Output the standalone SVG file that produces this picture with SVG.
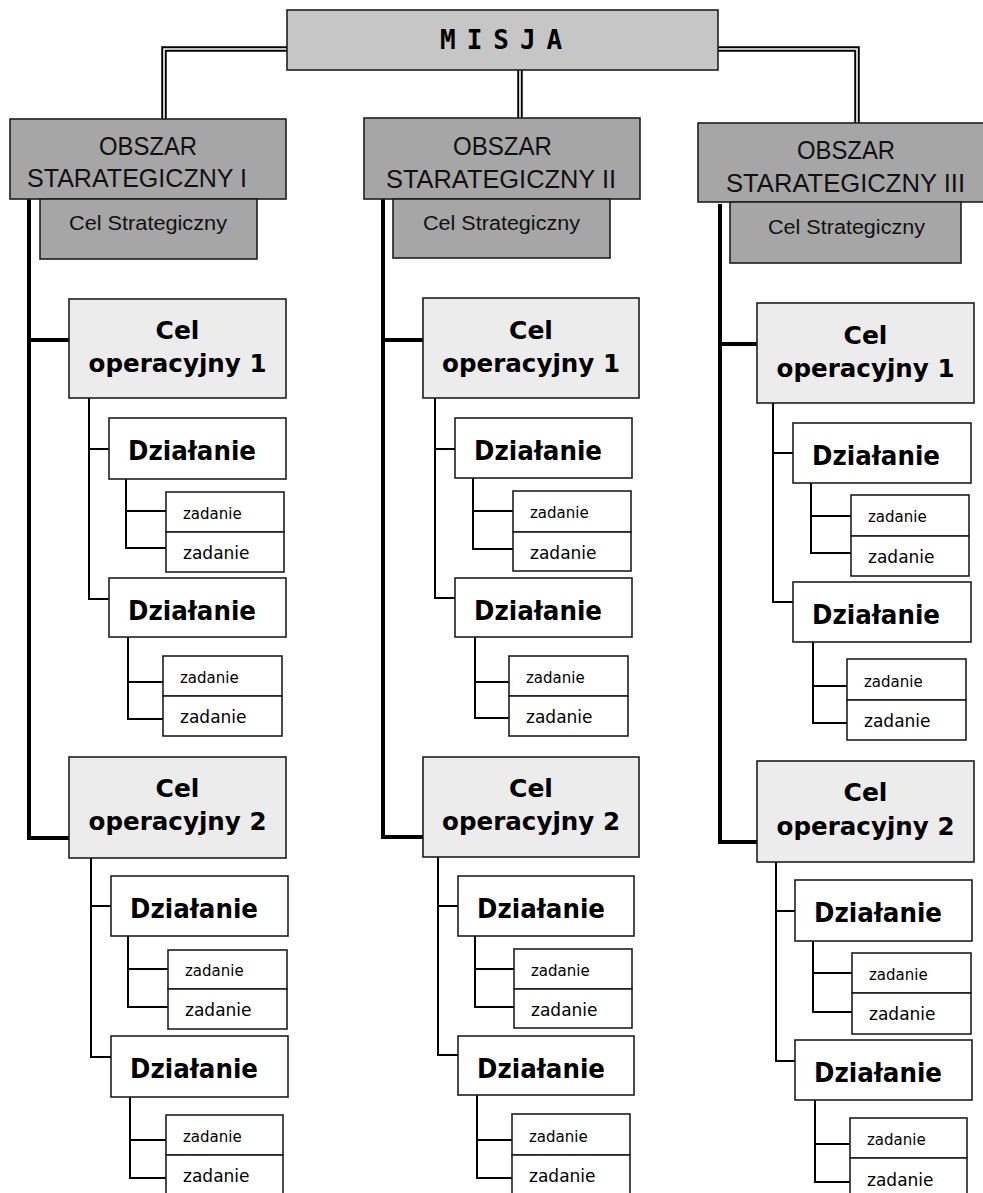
<svg xmlns="http://www.w3.org/2000/svg" width="983" height="1193" viewBox="0 0 983 1193">
<style>
.b{stroke:#1e1e1e;stroke-width:1.6}
.misja{fill:#c6c6c6}
.obs{fill:#a6a6a6}
.cop{fill:#ececec}
.w{fill:#fff}
.tm{font-family:"DejaVu Sans Mono",monospace;font-weight:bold;font-size:26px;letter-spacing:11px;fill:#000}
.to{font-family:"Liberation Sans",Arial,sans-serif;font-size:25.5px;fill:#111}
.ts{font-family:"Liberation Sans",Arial,sans-serif;font-size:20px;fill:#111}
.tc{font-family:"DejaVu Sans",Verdana,sans-serif;font-weight:bold;font-size:25px;fill:#000;text-anchor:middle}
.td{font-family:"DejaVu Sans",Verdana,sans-serif;font-weight:bold;font-size:26px;fill:#000}
.tz{font-family:"DejaVu Sans",Verdana,sans-serif;font-size:15px;fill:#000}
.tz2{font-family:"DejaVu Sans",Verdana,sans-serif;font-size:17px;fill:#000}
.dbo{fill:none;stroke:#000;stroke-width:5.5}
.dbi{fill:none;stroke:#fff;stroke-width:1.6}
.bus{fill:none;stroke:#000;stroke-width:4}
.thin{fill:none;stroke:#000;stroke-width:2}
</style>
<g id="connectors">
<path class="dbo" d="M287,49 H164 V119"/>
<path class="dbi" d="M287,49 H164 V119"/>
<path class="dbo" d="M520,70 V118"/>
<path class="dbi" d="M520,70 V118"/>
<path class="dbo" d="M718,49 H857 V123"/>
<path class="dbi" d="M718,49 H857 V123"/>
<path class="bus" d="M29,199 V838 H69 M29,340 H69"/>
<path class="bus" d="M383,198 V837 H423 M383,340 H423"/>
<path class="bus" d="M720,204 V842 H757 M720,344 H757"/>
<path class="thin" d="M89,398 V599 H109 M89,449 H109 M126,479 V548 H166 M126,511 H166 M128,637 V719 H163 M128,682 H163"/>
<path class="thin" d="M91,858 V1057 H111 M91,906 H111 M128,936 V1007 H168 M128,969 H168 M130,1097 V1178 H166 M130,1140 H166"/>
<path class="thin" d="M435,398 V598 H455 M435,449 H455 M473,478 V549 H513 M473,511 H513 M475,637 V718 H509 M475,682 H509"/>
<path class="thin" d="M438,857 V1055 H458 M438,906 H458 M475,936 V1007 H514 M475,969 H514 M477,1095 V1178 H512 M477,1140 H512"/>
<path class="thin" d="M773,403 V602 H793 M773,453 H793 M811,483 V553 H851 M811,516 H851 M813,642 V723 H847 M813,686 H847"/>
<path class="thin" d="M776,862 V1061 H795 M776,911 H795 M813,941 V1012 H852 M813,973 H852 M815,1100 V1182 H850 M815,1144 H850"/>
</g>
<g id="misja"><rect class="misja b" x="287" y="10" width="431" height="60"/><text class="tm" x="440" y="49">MISJA</text></g>

<g id="obszar1"><rect class="obs b" x="10" y="119" width="276" height="80"/><text class="to" x="99" y="155" textLength="98" lengthAdjust="spacingAndGlyphs">OBSZAR</text><text class="to" x="27" y="187" textLength="220" lengthAdjust="spacingAndGlyphs">STARATEGICZNY I</text></g>
<g id="celstrat1"><rect class="obs b" x="40" y="199" width="217" height="60"/><text class="ts" x="69" y="230" textLength="158" lengthAdjust="spacingAndGlyphs">Cel Strategiczny</text></g>
<g id="obszar2"><rect class="obs b" x="364" y="118" width="276" height="81"/><text class="to" x="453" y="155" textLength="99" lengthAdjust="spacingAndGlyphs">OBSZAR</text><text class="to" x="386" y="188" textLength="230" lengthAdjust="spacingAndGlyphs">STARATEGICZNY II</text></g>
<g id="celstrat2"><rect class="obs b" x="393" y="199" width="217" height="59"/><text class="ts" x="423" y="230" textLength="157" lengthAdjust="spacingAndGlyphs">Cel Strategiczny</text></g>
<g id="obszar3"><rect class="obs b" x="698" y="123" width="290" height="79"/><text class="to" x="797" y="159" textLength="98" lengthAdjust="spacingAndGlyphs">OBSZAR</text><text class="to" x="726" y="192" textLength="239" lengthAdjust="spacingAndGlyphs">STARATEGICZNY III</text></g>
<g id="celstrat3"><rect class="obs b" x="730" y="202" width="231" height="61"/><text class="ts" x="768" y="234" textLength="157" lengthAdjust="spacingAndGlyphs">Cel Strategiczny</text></g>

<g id="c1-op1"><rect class="cop b" x="69" y="299" width="217" height="99"/><text class="tc" x="177.5" y="339">Cel</text><text class="tc" x="177.5" y="372" textLength="178" lengthAdjust="spacingAndGlyphs">operacyjny 1</text></g>
<g id="c1-d1"><rect class="w b" x="109" y="418" width="177" height="61"/><text class="td" x="128" y="460" textLength="128" lengthAdjust="spacingAndGlyphs">Działanie</text></g>
<g id="c1-d1-z1"><rect class="w b" x="166" y="492" width="118" height="40"/><text class="tz" x="183" y="519">zadanie</text></g>
<g id="c1-d1-z2"><rect class="w b" x="166" y="532" width="118" height="40"/><text class="tz2" x="183" y="559">zadanie</text></g>
<g id="c1-d2"><rect class="w b" x="109" y="578" width="177" height="59"/><text class="td" x="128" y="620" textLength="128" lengthAdjust="spacingAndGlyphs">Działanie</text></g>
<g id="c1-d2-z1"><rect class="w b" x="163" y="656" width="119" height="40"/><text class="tz" x="180" y="683">zadanie</text></g>
<g id="c1-d2-z2"><rect class="w b" x="163" y="696" width="119" height="40"/><text class="tz2" x="180" y="723">zadanie</text></g>
<g id="c1-op2"><rect class="cop b" x="69" y="757" width="217" height="101"/><text class="tc" x="177.5" y="797">Cel</text><text class="tc" x="177.5" y="830" textLength="178" lengthAdjust="spacingAndGlyphs">operacyjny 2</text></g>
<g id="c1-d3"><rect class="w b" x="111" y="876" width="177" height="60"/><text class="td" x="130" y="918" textLength="128" lengthAdjust="spacingAndGlyphs">Działanie</text></g>
<g id="c1-d3-z1"><rect class="w b" x="168" y="950" width="119" height="39"/><text class="tz" x="185" y="976">zadanie</text></g>
<g id="c1-d3-z2"><rect class="w b" x="168" y="989" width="119" height="40"/><text class="tz2" x="185" y="1016">zadanie</text></g>
<g id="c1-d4"><rect class="w b" x="111" y="1036" width="177" height="61"/><text class="td" x="130" y="1078" textLength="128" lengthAdjust="spacingAndGlyphs">Działanie</text></g>
<g id="c1-d4-z1"><rect class="w b" x="166" y="1115" width="117" height="40"/><text class="tz" x="183" y="1142">zadanie</text></g>
<g id="c1-d4-z2"><rect class="w b" x="166" y="1155" width="117" height="44"/><text class="tz2" x="183" y="1182">zadanie</text></g>

<g id="c2-op1"><rect class="cop b" x="423" y="298" width="216" height="100"/><text class="tc" x="531" y="339">Cel</text><text class="tc" x="531" y="372" textLength="178" lengthAdjust="spacingAndGlyphs">operacyjny 1</text></g>
<g id="c2-d1"><rect class="w b" x="455" y="418" width="177" height="60"/><text class="td" x="474" y="460" textLength="128" lengthAdjust="spacingAndGlyphs">Działanie</text></g>
<g id="c2-d1-z1"><rect class="w b" x="513" y="491" width="118" height="41"/><text class="tz" x="530" y="518">zadanie</text></g>
<g id="c2-d1-z2"><rect class="w b" x="513" y="532" width="118" height="39"/><text class="tz2" x="530" y="559">zadanie</text></g>
<g id="c2-d2"><rect class="w b" x="455" y="578" width="177" height="59"/><text class="td" x="474" y="620" textLength="128" lengthAdjust="spacingAndGlyphs">Działanie</text></g>
<g id="c2-d2-z1"><rect class="w b" x="509" y="656" width="119" height="40"/><text class="tz" x="526" y="683">zadanie</text></g>
<g id="c2-d2-z2"><rect class="w b" x="509" y="696" width="119" height="40"/><text class="tz2" x="526" y="723">zadanie</text></g>
<g id="c2-op2"><rect class="cop b" x="423" y="757" width="216" height="100"/><text class="tc" x="531" y="797">Cel</text><text class="tc" x="531" y="830" textLength="178" lengthAdjust="spacingAndGlyphs">operacyjny 2</text></g>
<g id="c2-d3"><rect class="w b" x="458" y="876" width="176" height="60"/><text class="td" x="477" y="918" textLength="128" lengthAdjust="spacingAndGlyphs">Działanie</text></g>
<g id="c2-d3-z1"><rect class="w b" x="514" y="949" width="118" height="40"/><text class="tz" x="531" y="976">zadanie</text></g>
<g id="c2-d3-z2"><rect class="w b" x="514" y="989" width="118" height="39"/><text class="tz2" x="531" y="1016">zadanie</text></g>
<g id="c2-d4"><rect class="w b" x="458" y="1036" width="176" height="59"/><text class="td" x="477" y="1078" textLength="128" lengthAdjust="spacingAndGlyphs">Działanie</text></g>
<g id="c2-d4-z1"><rect class="w b" x="512" y="1114" width="118" height="41"/><text class="tz" x="529" y="1142">zadanie</text></g>
<g id="c2-d4-z2"><rect class="w b" x="512" y="1155" width="118" height="44"/><text class="tz2" x="529" y="1182">zadanie</text></g>

<g id="c3-op1"><rect class="cop b" x="757" y="303" width="217" height="100"/><text class="tc" x="865.5" y="344">Cel</text><text class="tc" x="865.5" y="377" textLength="178" lengthAdjust="spacingAndGlyphs">operacyjny 1</text></g>
<g id="c3-d1"><rect class="w b" x="793" y="423" width="178" height="60"/><text class="td" x="812" y="465" textLength="128" lengthAdjust="spacingAndGlyphs">Działanie</text></g>
<g id="c3-d1-z1"><rect class="w b" x="851" y="495" width="118" height="41"/><text class="tz" x="868" y="522">zadanie</text></g>
<g id="c3-d1-z2"><rect class="w b" x="851" y="536" width="118" height="40"/><text class="tz2" x="868" y="563">zadanie</text></g>
<g id="c3-d2"><rect class="w b" x="793" y="582" width="178" height="60"/><text class="td" x="812" y="624" textLength="128" lengthAdjust="spacingAndGlyphs">Działanie</text></g>
<g id="c3-d2-z1"><rect class="w b" x="847" y="659" width="119" height="41"/><text class="tz" x="864" y="687">zadanie</text></g>
<g id="c3-d2-z2"><rect class="w b" x="847" y="700" width="119" height="40"/><text class="tz2" x="864" y="727">zadanie</text></g>
<g id="c3-op2"><rect class="cop b" x="757" y="761" width="217" height="101"/><text class="tc" x="865.5" y="801">Cel</text><text class="tc" x="865.5" y="835" textLength="178" lengthAdjust="spacingAndGlyphs">operacyjny 2</text></g>
<g id="c3-d3"><rect class="w b" x="795" y="880" width="177" height="61"/><text class="td" x="814" y="922" textLength="128" lengthAdjust="spacingAndGlyphs">Działanie</text></g>
<g id="c3-d3-z1"><rect class="w b" x="852" y="953" width="119" height="40"/><text class="tz" x="869" y="980">zadanie</text></g>
<g id="c3-d3-z2"><rect class="w b" x="852" y="993" width="119" height="41"/><text class="tz2" x="869" y="1020">zadanie</text></g>
<g id="c3-d4"><rect class="w b" x="795" y="1040" width="177" height="60"/><text class="td" x="814" y="1082" textLength="128" lengthAdjust="spacingAndGlyphs">Działanie</text></g>
<g id="c3-d4-z1"><rect class="w b" x="850" y="1118" width="117" height="40"/><text class="tz" x="867" y="1145">zadanie</text></g>
<g id="c3-d4-z2"><rect class="w b" x="850" y="1158" width="117" height="42"/><text class="tz2" x="867" y="1186">zadanie</text></g>
</svg>
